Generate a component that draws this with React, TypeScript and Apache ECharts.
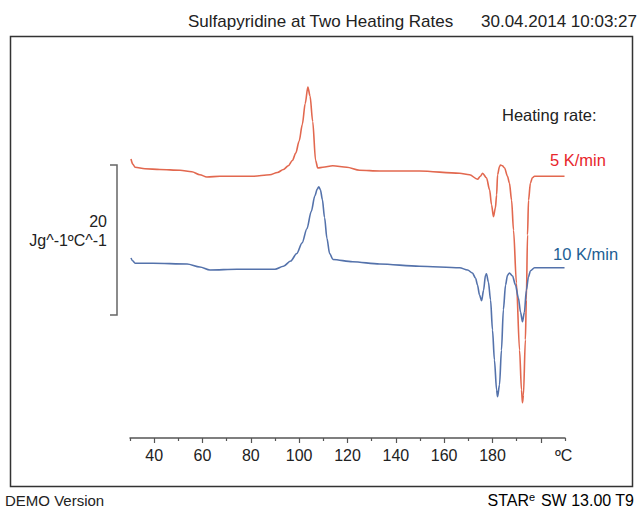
import React, { useEffect, useRef } from "react";
import * as echarts from "echarts";

// Temperature (°C) and heat flow (Jg^-1°C^-1, arbitrary offset)
const redT = [30.4, 31.2, 32.1, 36.2, 42.4, 50.7, 55.6, 58.9, 61.8, 67.2, 80.8, 87.9, 91.0, 93.5, 95.5, 97.2, 98.6, 100.0, 101.3, 102.5, 103.6, 104.5, 105.6, 106.8, 107.7, 109.8, 113.9, 119.7, 125.0, 133.3, 149.8, 166.4, 170.5, 173.8, 175.0, 175.9, 177.5, 178.8, 179.6, 180.4, 181.2, 181.7, 182.1, 182.9, 183.3, 184.1, 185.0, 186.2, 187.0, 187.9, 188.7, 189.9, 191.2, 192.0, 192.4, 192.8, 193.6, 194.0, 194.5, 194.9, 195.7, 196.5, 197.4, 203.6, 209.8];
const redV = [37.2, 36.5, 36.1, 35.9, 35.8, 35.7, 35.5, 35.1, 34.8, 34.9, 34.9, 35.1, 35.4, 35.8, 36.3, 37.0, 38.0, 39.6, 41.8, 44.6, 46.8, 45.6, 42.2, 37.0, 36.0, 36.1, 36.3, 36.1, 35.7, 35.6, 35.6, 35.3, 35.1, 34.5, 34.9, 35.3, 34.7, 33.1, 31.1, 29.5, 30.7, 32.4, 35.1, 36.2, 36.4, 36.3, 36.0, 34.9, 34.0, 31.7, 27.7, 20.7, 11.7, 6.4, 4.7, 5.7, 13.1, 18.4, 27.1, 31.7, 34.0, 34.7, 34.9, 34.9, 34.9];

const blueT = [30.4, 31.2, 32.1, 39.5, 53.6, 58.9, 63.1, 74.2, 90.0, 93.5, 96.5, 99.0, 101.2, 103.2, 105.0, 106.5, 107.5, 108.1, 108.8, 109.6, 110.5, 111.5, 112.6, 114.0, 122.1, 133.3, 149.8, 166.4, 169.7, 171.7, 173.0, 173.8, 174.6, 175.5, 176.3, 177.1, 177.5, 178.3, 179.2, 180.0, 180.8, 181.7, 182.1, 182.9, 183.7, 184.5, 185.4, 186.2, 187.0, 188.3, 189.5, 190.7, 191.6, 192.4, 193.2, 194.0, 194.9, 195.7, 197.4, 203.6, 209.8];
const blueV = [24.0, 23.6, 23.3, 23.3, 23.2, 22.8, 22.4, 22.5, 22.5, 22.9, 23.6, 24.6, 26.0, 27.9, 30.2, 32.3, 33.2, 33.5, 33.1, 31.8, 29.4, 26.6, 24.6, 23.8, 23.5, 23.2, 22.9, 22.7, 22.4, 22.0, 21.3, 20.4, 19.1, 18.3, 19.7, 21.7, 21.9, 20.8, 18.4, 14.4, 10.4, 6.4, 5.5, 7.1, 11.7, 17.1, 20.4, 21.7, 22.0, 21.6, 20.4, 18.7, 16.8, 15.5, 16.8, 19.7, 21.5, 22.3, 22.7, 22.7, 22.7];

const xLabelValues = [40, 60, 80, 100, 120, 140, 160, 180];
const majorTicks = [40, 60, 80, 100, 120, 140, 160, 180, 200];
const minorTicks = [30, 50, 70, 90, 110, 130, 150, 170, 190, 210];

const scaleBarTop = 36.4;
const scaleBarSpan = 20;

const FONT = "'Liberation Sans', Arial, sans-serif";
const RED_LINE = "#e2684f";
const BLUE_LINE = "#5472ab";
const RED_TEXT = "#e8262c";
const BLUE_TEXT = "#1d5e94";
const TEXT = "#222";

export default function App() {
  const ref = useRef<HTMLDivElement>(null);
  useEffect(() => {
    if (!ref.current) return;
    const chart = echarts.init(ref.current, null, { renderer: "svg" });
    const zip = (a: number[], b: number[]) => a.map((t, i) => [t, b[i]]);
    const axisBase = {
      type: "value" as const,
      min: 30,
      max: 210,
      position: "bottom" as const,
      splitLine: { show: false },
    };
    chart.setOption({
      animation: false,
      grid: { left: 130, right: 73, top: 48, bottom: 72 },
      xAxis: [
        {
          ...axisBase,
          axisLine: { show: true, lineStyle: { color: "#555", width: 1.5 } },
          axisTick: { show: true, customValues: majorTicks, length: 5, lineStyle: { color: "#555", width: 1.2 } },
          axisLabel: { customValues: xLabelValues, fontSize: 16, color: TEXT, fontFamily: FONT, margin: 9 },
        },
        {
          ...axisBase,
          axisLine: { show: false },
          axisTick: { show: true, customValues: minorTicks, length: 3, lineStyle: { color: "#555", width: 1.2 } },
          axisLabel: { show: false },
        },
      ],
      yAxis: { type: "value", min: 0, max: 52, show: false },
      series: [
        {
          type: "line",
          data: zip(redT, redV),
          showSymbol: false,
          smooth: 0.3,
          smoothMonotone: "x",
          lineStyle: { color: RED_LINE, width: 1.6 },
        },
        {
          type: "line",
          data: zip(blueT, blueV),
          showSymbol: false,
          smooth: 0.3,
          smoothMonotone: "x",
          lineStyle: { color: BLUE_LINE, width: 1.6 },
        },
      ],
    });
    const yTop = chart.convertToPixel({ yAxisIndex: 0 }, scaleBarTop) as number;
    const yBot = chart.convertToPixel({ yAxisIndex: 0 }, scaleBarTop - scaleBarSpan) as number;
    const txt = (x: number, y: number, text: string, opts: any = {}) => ({
      type: "text",
      x,
      y,
      style: {
        text,
        font: `${opts.size || 16}px ${FONT}`,
        fill: opts.color || TEXT,
        textAlign: opts.align || "left",
        textVerticalAlign: "middle",
      },
    });
    chart.setOption({
      graphic: [
        {
          type: "rect",
          shape: { x: 10.5, y: 36.5, width: 622, height: 450 },
          style: { fill: "none", stroke: "#333", lineWidth: 1.5 },
        },
        txt(188, 21, "Sulfapyridine at Two Heating Rates", { size: 17 }),
        txt(637, 21, "30.04.2014 10:03:27", { align: "right", size: 17 }),
        txt(502, 115, "Heating rate:", { size: 16.5 }),
        txt(550, 160, "5 K/min", { color: RED_TEXT, size: 16.5 }),
        txt(553, 254, "10 K/min", { color: BLUE_TEXT, size: 16.5 }),
        txt(107, 221, "20", { align: "right" }),
        txt(107, 240, "Jg^-1ºC^-1", { align: "right" }),
        txt(555, 455, "ºC"),
        txt(5, 500, "DEMO Version", { size: 15 }),
        {
          type: "polyline",
          shape: { points: [[110, yTop], [117, yTop], [117, yBot], [110, yBot]] },
          style: { fill: "none", stroke: "#666", lineWidth: 1.5 },
        },
        {
          type: "text",
          x: 634,
          y: 500,
          style: {
            text: "{k|S}{r|TA}{k|R}{s|e}{k| SW 13.00 T9}",
            textAlign: "right",
            textVerticalAlign: "middle",
            rich: {
              k: { fontSize: 16, fontFamily: FONT, color: TEXT },
              r: { fontSize: 16, fontFamily: FONT, color: RED_TEXT },
              s: { fontSize: 11, fontFamily: FONT, color: RED_TEXT, verticalAlign: "top", padding: [0, 1, 7, 0] },
            },
          },
        },
      ],
    });
    return () => chart.dispose();
  }, []);
  return <div ref={ref} style={{ width: 638, height: 510, position: "absolute", left: 0, top: 0 }} />;
}
